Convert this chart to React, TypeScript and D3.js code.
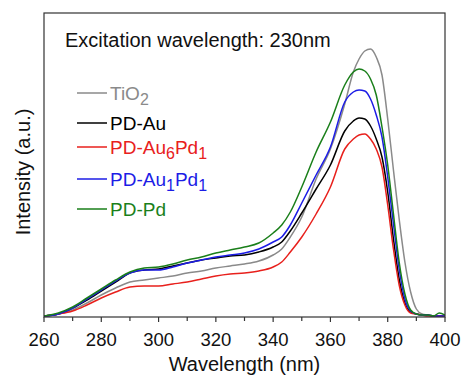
import React from "react";
import * as d3 from "d3";

// Emission wavelengths (nm) shared by every spectrum
const wavelengths = [
  260, 265, 270, 275, 280, 285, 290, 295, 300, 305, 310, 315, 320, 325, 330,
  335, 340, 343, 346, 350, 355, 360, 365, 368, 370, 372, 374, 376, 378, 380,
  382, 384, 386, 388, 390, 392, 394, 396, 398, 400,
];

// PL intensities (a.u.)
const tio2 = [
  1, 3, 7, 14, 22, 29, 35, 37, 39, 41, 44, 46, 49, 51, 53,
  56, 62, 68, 80, 100, 138, 168, 213, 245, 258, 266, 268, 260, 242, 198,
  147, 98, 55, 25, 8, 3, 2, 1, 1, 2,
];
const pdAu = [
  1, 3, 9, 17, 26, 35, 44, 47, 48, 51, 54, 57, 59, 61, 62,
  65, 70, 75, 86, 104, 128, 152, 186, 196, 199, 198, 191, 178, 160, 125,
  78, 38, 14, 5, 3, 2, 2, 1, 1, 1,
];
const pdAu6Pd1 = [
  1, 3, 6, 12, 19, 25, 30, 31, 31, 33, 35, 38, 41, 43, 44,
  46, 50, 55, 65, 80, 103, 130, 168, 178, 182, 183, 178, 168, 150, 112,
  68, 32, 12, 4, 3, 2, 1, 1, 1, 1,
];
const pdAu1Pd1 = [
  1, 3, 9, 18, 27, 36, 44, 47, 47, 50, 54, 57, 60, 62, 64,
  68, 75, 80, 92, 114, 142, 170, 215, 225, 227, 226, 218, 202, 180, 140,
  93, 48, 18, 6, 3, 2, 2, 1, 1, 1,
];
const pdPd = [
  1, 4, 10, 19, 28, 37, 45, 49, 50, 53, 57, 60, 64, 67, 70,
  74, 84, 92, 105, 130, 165, 195, 232, 245, 248, 246, 238, 222, 190, 152,
  103, 55, 23, 7, 3, 2, 2, 1, 4, 2,
];

const seriesNames = ["TiO2", "PD-Au", "PD-Au6Pd1", "PD-Au1Pd1", "PD-Pd"];
const seriesValues = [tio2, pdAu, pdAu6Pd1, pdAu1Pd1, pdPd];
const seriesColors = ["#8a8a8a", "#000000", "#e8201c", "#1c1ce6", "#1a7f1a"];

// Legend labels as [text, subscript] pieces
const legendLabels: [string, boolean][][] = [
  [["TiO", false], ["2", true]],
  [["PD-Au", false]],
  [["PD-Au", false], ["6", true], ["Pd", false], ["1", true]],
  [["PD-Au", false], ["1", true], ["Pd", false], ["1", true]],
  [["PD-Pd", false]],
];

const xMajorTicks = [260, 280, 300, 320, 340, 360, 380, 400];
const xMinorTicks = [270, 290, 310, 330, 350, 370, 390];

const title = "Excitation wavelength: 230nm";
const xTitle = "Wavelength (nm)";
const yTitle = "Intensity (a.u.)";

const W = 462;
const H = 377;
const margin = { left: 44, right: 17, top: 13, bottom: 60 };
const FONT = "'Liberation Sans', Arial, Helvetica, sans-serif";

export default function App() {
  const x = d3
    .scaleLinear()
    .domain([260, 400])
    .range([margin.left, W - margin.right]);
  const y = d3
    .scaleLinear()
    .domain([0, 304])
    .range([H - margin.bottom, margin.top]);

  const line = d3
    .line<[number, number]>()
    .x((d) => x(d[0]))
    .y((d) => y(d[1]))
    .curve(d3.curveMonotoneX);

  const plotBottom = H - margin.bottom;
  const legendY = [93, 123, 147, 179, 209];

  return (
    <svg
      width={W}
      height={H}
      style={{ position: "absolute", left: 0, top: 0, background: "#fff" }}
      fontFamily={FONT}
    >
      <rect x={0} y={0} width={W} height={H} fill="#fff" />
      <defs>
        <clipPath id="plotArea">
          <rect
            x={margin.left}
            y={margin.top}
            width={W - margin.left - margin.right}
            height={plotBottom - margin.top}
          />
        </clipPath>
      </defs>

      <g clipPath="url(#plotArea)">
        {seriesValues.map((vals, i) => (
          <path
            key={seriesNames[i]}
            d={line(wavelengths.map((w, j) => [w, vals[j]] as [number, number])) || ""}
            fill="none"
            stroke={seriesColors[i]}
            strokeWidth={1.5}
            strokeLinejoin="round"
          />
        ))}
      </g>

      {/* frame */}
      <rect
        x={margin.left}
        y={margin.top}
        width={W - margin.left - margin.right}
        height={plotBottom - margin.top}
        fill="none"
        stroke="#333"
        strokeWidth={1.2}
      />

      {/* x ticks */}
      {xMajorTicks.map((t) => (
        <g key={"M" + t}>
          <line
            x1={x(t)}
            x2={x(t)}
            y1={plotBottom}
            y2={plotBottom + 5}
            stroke="#333"
            strokeWidth={1.2}
          />
          <text
            x={x(t)}
            y={plotBottom + 29}
            fontSize={18.5}
            textAnchor="middle"
            fill="#111"
          >
            {t}
          </text>
        </g>
      ))}
      {xMinorTicks.map((t) => (
        <line
          key={"m" + t}
          x1={x(t)}
          x2={x(t)}
          y1={plotBottom}
          y2={plotBottom + 4}
          stroke="#333"
          strokeWidth={1.2}
        />
      ))}

      {/* axis titles */}
      <text
        x={(margin.left + W - margin.right) / 2}
        y={371}
        fontSize={20}
        textAnchor="middle"
        fill="#111"
      >
        {xTitle}
      </text>
      <text
        transform={`translate(30,${172}) rotate(-90)`}
        fontSize={20}
        textAnchor="middle"
        fill="#111"
      >
        {yTitle}
      </text>

      {/* annotation */}
      <text x={65} y={47} fontSize={20} fill="#111">
        {title}
      </text>

      {/* legend */}
      {legendLabels.map((parts, i) => (
        <g key={"leg" + i}>
          <line
            x1={77}
            x2={107}
            y1={legendY[i]}
            y2={legendY[i]}
            stroke={seriesColors[i]}
            strokeWidth={1.5}
          />
          <text x={110} y={legendY[i] + 6.5} fontSize={19} fill={seriesColors[i]}>
            {parts.map(([s, sub], k) => {
              const prevSub = k > 0 && parts[k - 1][1];
              const dy = sub ? (prevSub ? 0 : 5) : prevSub ? -5 : 0;
              return (
                <tspan key={k} dy={dy} fontSize={sub ? 16 : 19}>
                  {s}
                </tspan>
              );
            })}
          </text>
        </g>
      ))}
    </svg>
  );
}
